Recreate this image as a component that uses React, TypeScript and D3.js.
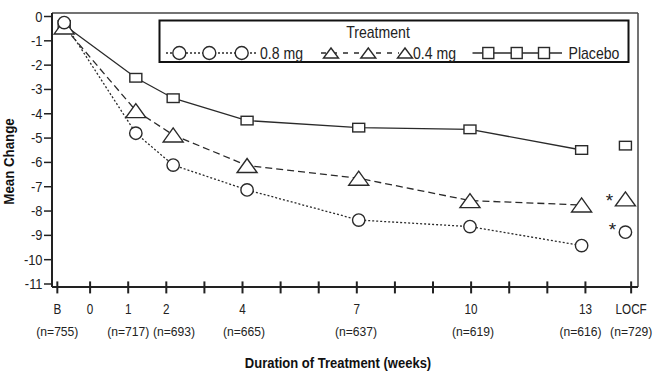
import React from "react";
import * as d3 from "d3";

// ---- data ----
const timePoints = ["B", "1", "2", "4", "7", "10", "13", "LOCF"];
// horizontal position of each time point, in weeks (B and LOCF sit off the week grid)
const timeWeeks = [-0.68, 1.2, 2.18, 4.12, 7.05, 9.97, 12.9, 14.05];
const placebo = [-0.35, -2.52, -3.36, -4.28, -4.57, -4.64, -5.49, -5.31];
const dose04 = [-0.43, -3.87, -4.87, -6.13, -6.65, -7.57, -7.75, -7.5];
const dose08 = [-0.25, -4.8, -6.11, -7.13, -8.37, -8.64, -9.42, -8.87];
const yTicks = [0, -1, -2, -3, -4, -5, -6, -7, -8, -9, -10, -11];
const weekTicks = [0, 1, 2, 3, 4, 5, 6, 7, 8, 9, 10, 11, 12, 13];
const xTickLabels = ["B", "0", "1", "2", "4", "7", "10", "13", "LOCF"];
const xTickLabelWeeks = [-0.86, 0, 1, 2, 4, 7, 10, 13, 14.2];
const nLabels = ["(n=755)", "(n=717)", "(n=693)", "(n=665)", "(n=637)", "(n=619)", "(n=616)", "(n=729)"];
const nLabelWeeks = [-0.86, 1.0, 2.2, 4.04, 6.98, 10.05, 12.87, 14.2];
const legendLabels = ["0.8 mg", "0.4 mg", "Placebo"];

const W = 661;
const H = 374;
const FONT = "'Liberation Sans', Arial, sans-serif";
const INK = "#2a2a2a";

function NText(props: {
  x: number;
  y: number;
  sx?: number;
  size: number;
  anchor?: string;
  weight?: string;
  fill?: string;
  children: React.ReactNode;
}) {
  const { x, y, sx = 1, size, anchor = "start", weight = "normal", fill = "#222", children } = props;
  return (
    <text
      transform={`translate(${x},${y}) scale(${sx},1)`}
      fontSize={size}
      textAnchor={anchor}
      fontWeight={weight}
      fill={fill}
    >
      {children}
    </text>
  );
}

export default function App() {
  const x = d3.scaleLinear().domain([-1, 14.38]).range([52, 638]);
  const y = d3.scaleLinear().domain([0, -11]).range([16.5, 284]);
  const top = y(0.145);
  const bottom = y(-11.12);
  const left = x(-1);
  const right = x(14.38);

  const lineGen = d3
    .line<number>()
    .x((_, i) => x(timeWeeks[i]))
    .y((d) => y(d));

  const trend = (arr: number[]) => arr.slice(0, 7);

  const circle = (cx: number, cy: number, r = 6.2, key?: any) => (
    <circle key={key} cx={cx} cy={cy} r={r} fill="#fff" stroke={INK} strokeWidth={1.4} />
  );
  const tri = (cx: number, cy: number, w = 20, h = 14, key?: any) => (
    <path
      key={key}
      d={`M${cx - w / 2},${cy + h / 2}L${cx + w / 2},${cy + h / 2}L${cx},${cy - h / 2}Z`}
      fill="#fff"
      stroke={INK}
      strokeWidth={1.4}
    />
  );
  const sq = (cx: number, cy: number, w = 12, h = 8.6, key?: any) => (
    <rect key={key} x={cx - w / 2} y={cy - h / 2} width={w} height={h} fill="#fff" stroke={INK} strokeWidth={1.4} />
  );

  const legY = 53;

  return (
    <svg
      width={W}
      height={H}
      style={{ position: "absolute", left: 0, top: 0, background: "#fff" }}
      fontFamily={FONT}
    >
      <rect width={W} height={H} fill="#fff" />
      {/* frame */}
      <line x1={left} y1={top} x2={right} y2={top} stroke="#444" strokeWidth={1.5} />
      <line x1={right} y1={top} x2={right} y2={bottom} stroke="#444" strokeWidth={1.5} />
      <line x1={left} y1={top} x2={left} y2={bottom} stroke="#222" strokeWidth={2} />
      <line x1={left} y1={bottom} x2={right} y2={bottom} stroke="#222" strokeWidth={2} />

      {/* y ticks */}
      {yTicks.map((t) => (
        <g key={"y" + t}>
          <line x1={44} x2={left} y1={y(t)} y2={y(t)} stroke="#222" strokeWidth={1.5} />
          <NText x={42.5} y={y(t) + 5} size={14} sx={0.92} anchor="end">
            {t === 0 ? "0" : `-${Math.abs(t)}`}
          </NText>
        </g>
      ))}
      {/* x ticks */}
      {[-0.86, ...weekTicks, 14.2].map((w) => (
        <line key={"xt" + w} x1={x(w)} x2={x(w)} y1={bottom - 5.5} y2={bottom + 6.5} stroke="#222" strokeWidth={2} />
      ))}
      {xTickLabels.map((l, i) => (
        <NText key={"xl" + l} x={x(xTickLabelWeeks[i])} y={314} size={15} sx={0.78} anchor="middle">
          {l}
        </NText>
      ))}
      {nLabels.map((l, i) => (
        <NText key={"nl" + i} x={x(nLabelWeeks[i])} y={336} size={12.5} sx={0.97} anchor="middle">
          {l}
        </NText>
      ))}
      <NText x={338} y={368} size={14} sx={0.93} anchor="middle" weight="bold" fill="#111">
        Duration of Treatment (weeks)
      </NText>
      <text
        transform="translate(13.5,161.5) rotate(-90) scale(0.95,1)"
        textAnchor="middle"
        fontSize={14}
        fontWeight="bold"
        fill="#111"
      >
        Mean Change
      </text>

      {/* series lines */}
      <path d={lineGen(trend(placebo)) || ""} fill="none" stroke={INK} strokeWidth={1.3} />
      <path d={lineGen(trend(dose04)) || ""} fill="none" stroke={INK} strokeWidth={1.3} strokeDasharray="7,4" />
      <path d={lineGen(trend(dose08)) || ""} fill="none" stroke={INK} strokeWidth={1.3} strokeDasharray="2,2" />

      {/* markers */}
      {placebo.map((v, i) => sq(x(timeWeeks[i]), y(v), 12, 8.6, "s" + i))}
      {dose04.map((v, i) => tri(x(timeWeeks[i]), y(v), 20, 14, "t" + i))}
      {dose08.map((v, i) => circle(x(timeWeeks[i]), y(v), 6.2, "c" + i))}

      {/* significance asterisks */}
      <text x={x(timeWeeks[7]) - 16} y={y(dose04[7]) + 8} textAnchor="middle" fontSize={19} fill="#222">
        *
      </text>
      <text x={x(timeWeeks[7]) - 13} y={y(dose08[7]) + 4} textAnchor="middle" fontSize={19} fill="#222">
        *
      </text>

      {/* legend */}
      <rect x={159.5} y={20.5} width={469} height={41.5} fill="#fff" stroke="#111" strokeWidth={2} />
      <NText x={378} y={37.5} size={16} sx={0.88} anchor="middle">
        Treatment
      </NText>
      <line x1={166} x2={258} y1={legY} y2={legY} stroke={INK} strokeWidth={1.3} strokeDasharray="2,2" />
      {[179.3, 209.3, 241.7].map((cx, i) => circle(cx, legY, 6.5, "lc" + i))}
      <NText x={260} y={legY + 6} size={16} sx={0.88}>
        {legendLabels[0]}
      </NText>
      <line x1={321} x2={399} y1={legY} y2={legY} stroke={INK} strokeWidth={1.5} strokeDasharray="5,6" />
      {[331, 368.3, 405].map((cx, i) => tri(cx, legY, 15, 10, "lt" + i))}
      <NText x={413} y={legY + 6} size={16} sx={0.88}>
        {legendLabels[1]}
      </NText>
      <line x1={472.5} x2={562} y1={legY} y2={legY} stroke={INK} strokeWidth={1.3} />
      {[488.3, 516.7, 544].map((cx, i) => sq(cx, legY, 11, 11, "ls" + i))}
      <NText x={568.5} y={legY + 6} size={16} sx={0.88}>
        {legendLabels[2]}
      </NText>
    </svg>
  );
}
